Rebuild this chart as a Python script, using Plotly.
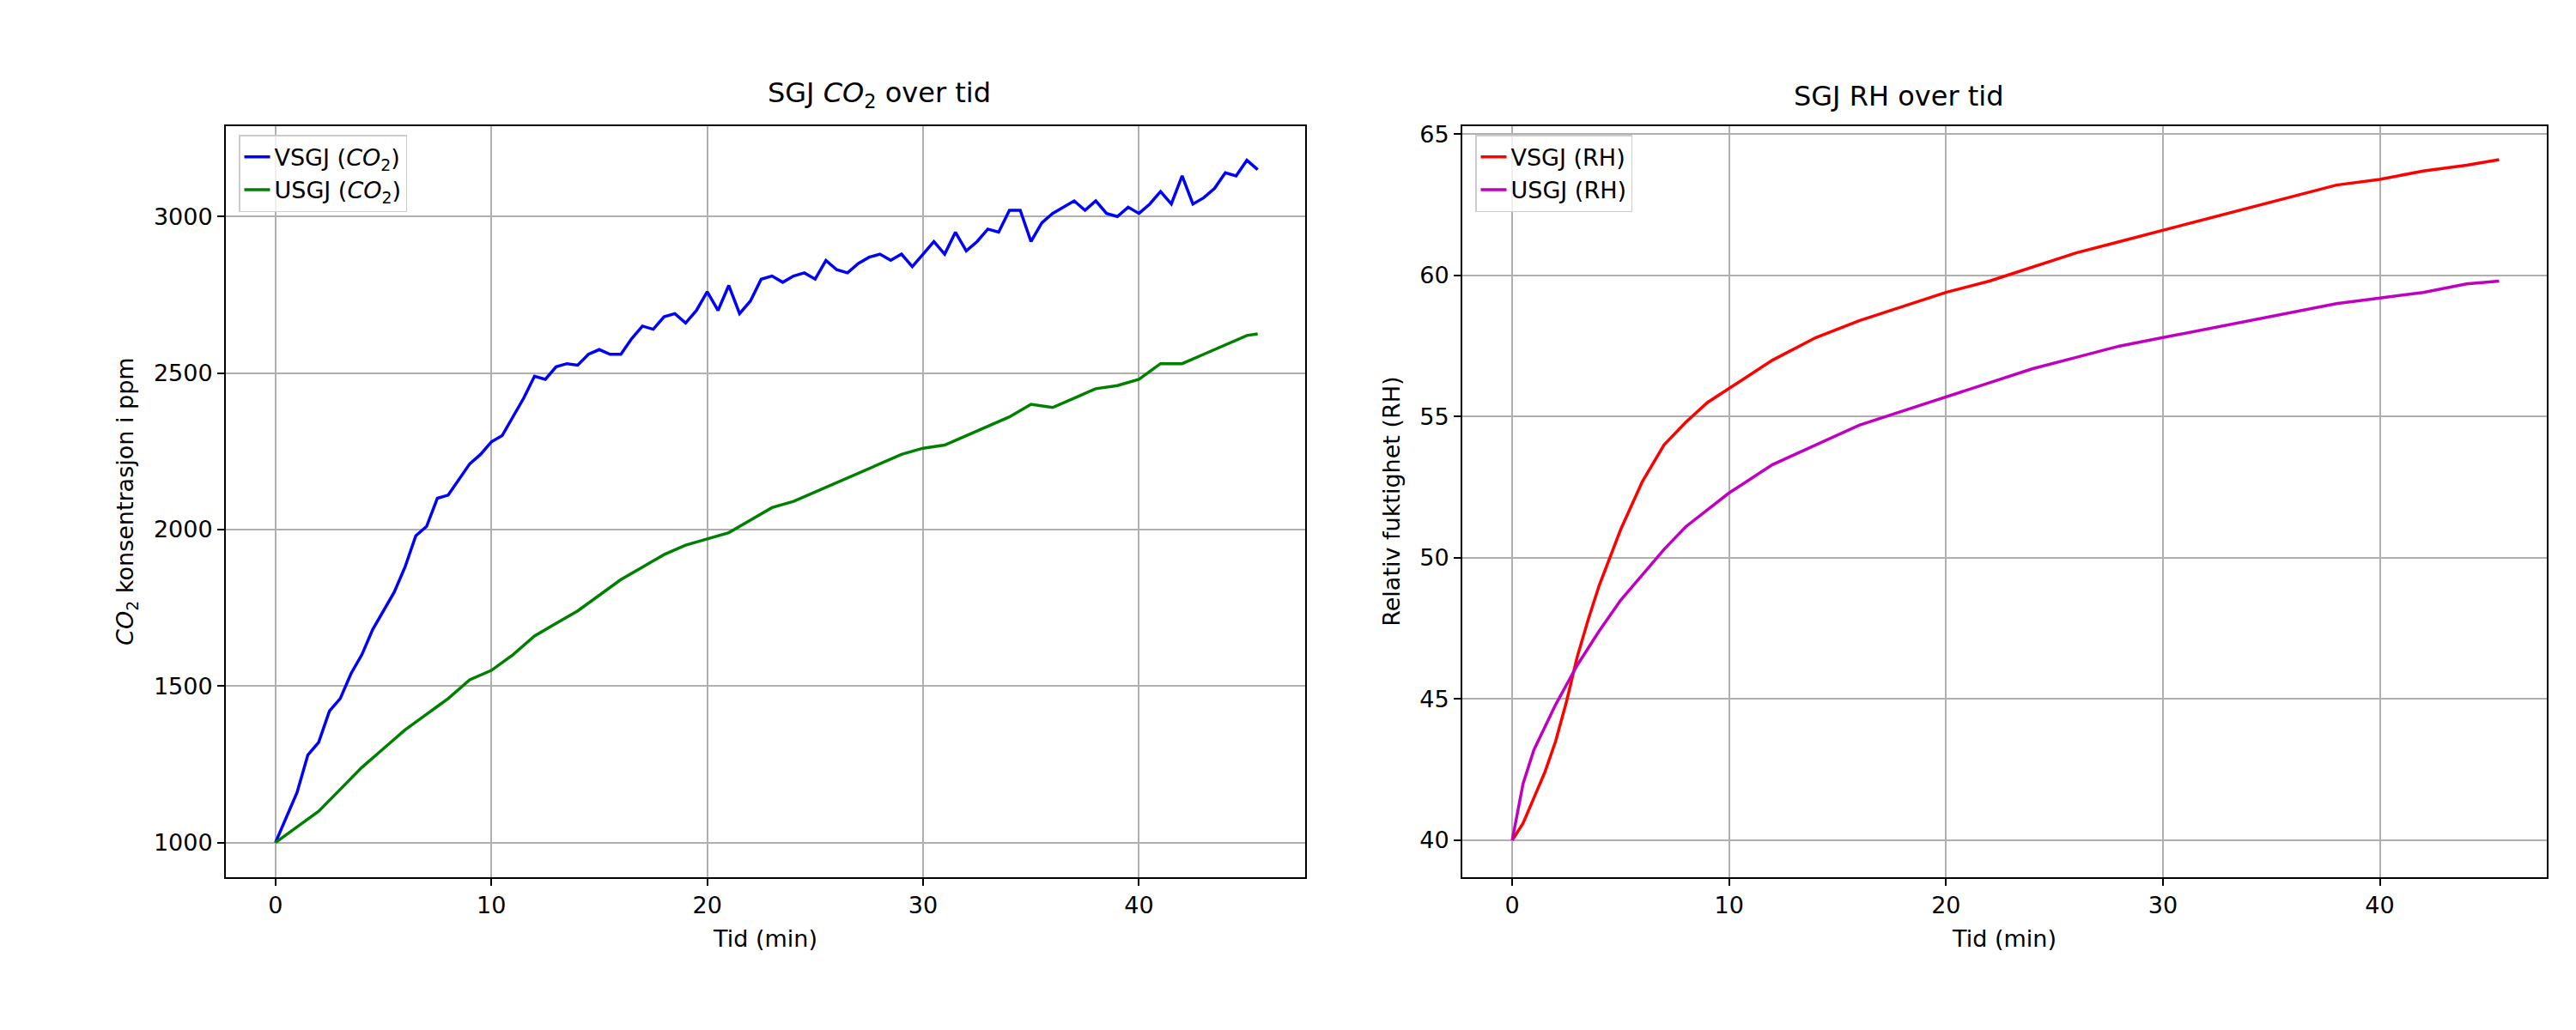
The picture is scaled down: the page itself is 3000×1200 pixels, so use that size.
import plotly.graph_objects as go

t_v = [i*0.5 for i in range(92)]
co2_v = [1000,1080,1160,1280,1320,1420,1460,1540,1600,1680,1740,1800,1880,1980,2010,2100,2110,2160,2210,2240,
         2280,2300,2360,2420,2490,2480,2520,2530,2525,2560,2575,2560,2560,2610,2650,2640,2680,2690,2660,2700,
         2760,2700,2780,2690,2730,2800,2810,2790,2810,2820,2800,2860,2830,2820,2850,2870,2880,2860,2880,2840,
         2880,2920,2880,2950,2890,2920,2960,2950,3020,3020,2920,2980,3010,3030,3050,3020,3050,3010,3000,3030,
         3010,3040,3080,3040,3130,3040,3060,3090,3140,3130,3180,3150]
t_u = list(range(46)) + [45.5]
co2_u = [1000,1050,1100,1170,1240,1300,1360,1410,1460,1520,1550,1600,1660,1700,1740,1790,1840,1880,1920,1950,
         1970,1990,2030,2070,2090,2120,2150,2180,2210,2240,2260,2270,2300,2330,2360,2400,2390,2420,2450,2460,
         2480,2530,2530,2560,2590,2620,2625]
t_rh = [0,0.5,1,1.5,2,2.5,3,3.5,4,5,6,7,8,9,10,12,14,16,18,20,22,24,26,28,30,32,34,36,38,40,42,44,45.5]
rh_v = [40,40.6,41.5,42.4,43.5,44.9,46.5,47.8,49,51,52.7,54,54.8,55.5,56.0,57,57.8,58.4,58.9,59.4,59.8,60.3,60.8,61.2,61.6,62.0,62.4,62.8,63.2,63.4,63.7,63.9,64.1]
rh_u = [40,42,43.2,44.0,44.8,45.5,46.2,46.8,47.4,48.5,49.4,50.3,51.1,51.7,52.3,53.3,54.0,54.7,55.2,55.7,56.2,56.7,57.1,57.5,57.8,58.1,58.4,58.7,59.0,59.2,59.4,59.7,59.8]

F = "DejaVu Sans"
FS = 27
fig = go.Figure()
fig.add_trace(go.Scatter(x=t_v, y=co2_v, mode="lines", line=dict(color="#0000ff", width=3.5), name="VSGJ (<i>CO</i><sub>2</sub>)", legend="legend"))
fig.add_trace(go.Scatter(x=t_u, y=co2_u, mode="lines", line=dict(color="#008000", width=3.5), name="USGJ (<i>CO</i><sub>2</sub>)", legend="legend"))
fig.add_trace(go.Scatter(x=t_rh, y=rh_v, mode="lines", line=dict(color="#ff0000", width=3.5), name="VSGJ (RH)", xaxis="x2", yaxis="y2", legend="legend2"))
fig.add_trace(go.Scatter(x=t_rh, y=rh_u, mode="lines", line=dict(color="#bf00bf", width=3.5), name="USGJ (RH)", xaxis="x2", yaxis="y2", legend="legend2"))

ax = dict(showline=True, linecolor="black", linewidth=2, mirror=True, showgrid=True, gridcolor="#b0b0b0", gridwidth=1.5,
          ticks="outside", ticklen=8, tickwidth=2, tickcolor="black", zeroline=False,
          tickfont=dict(size=FS, family=F, color="black"))
leg = dict(bgcolor="rgba(255,255,255,0.8)", bordercolor="#cccccc", borderwidth=1.5, font=dict(size=FS, family=F, color="black"),
           xanchor="left", yanchor="top")
fig.update_layout(
    width=3000, height=1200, paper_bgcolor="white", plot_bgcolor="white", margin=dict(l=0, r=0, t=0, b=0),
    font=dict(family=F, color="black"),
    xaxis=dict(ax, domain=[0.085, 0.504], range=[-2.3, 47.7], dtick=10, title=dict(text="Tid (min)", font=dict(size=FS))),
    yaxis=dict(ax, domain=[0.156, 0.889], range=[890, 3290], dtick=500, title=dict(text="<i>CO</i><sub>2</sub> konsentrasjon i ppm", font=dict(size=FS))),
    xaxis2=dict(ax, domain=[0.565, 0.986], range=[-2.3, 47.7], dtick=10, anchor="y2", title=dict(text="Tid (min)", font=dict(size=FS))),
    yaxis2=dict(ax, domain=[0.156, 0.889], range=[38.7, 65.3], dtick=5, anchor="x2", title=dict(text="Relativ fuktighet (RH)", font=dict(size=FS))),
    legend=dict(leg, x=0.09, y=0.88),
    legend2=dict(leg, x=0.57, y=0.88),
    showlegend=True,
    annotations=[
        dict(text="SGJ <i>CO</i><sub>2</sub> over tid", x=0.2945, y=0.9, xref="paper", yref="paper", showarrow=False, yanchor="bottom", font=dict(size=32)),
        dict(text="SGJ RH over tid", x=0.7755, y=0.9, xref="paper", yref="paper", showarrow=False, yanchor="bottom", font=dict(size=32)),
    ],
)
fig.write_html("out.html")
